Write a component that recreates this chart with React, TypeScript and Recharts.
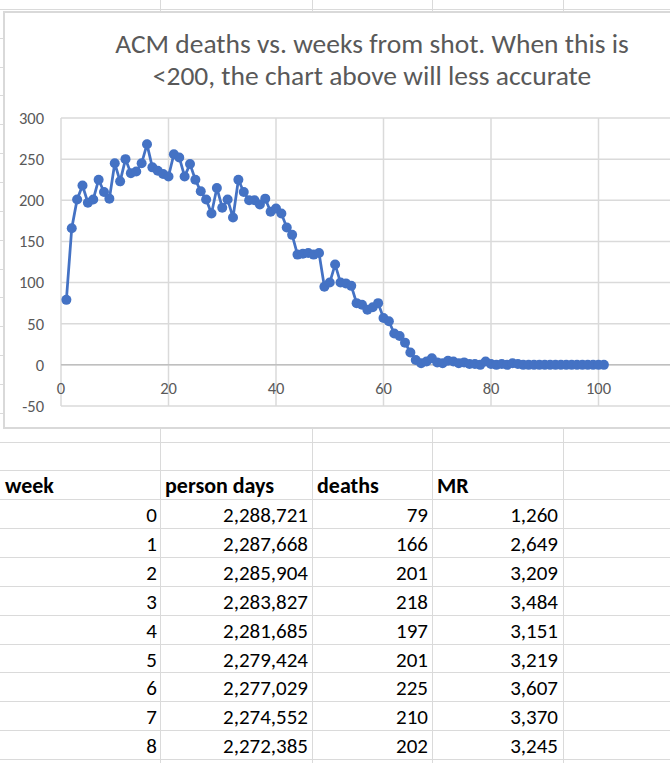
import { LineChart, Line, XAxis, YAxis, CartesianGrid, ReferenceLine } from "recharts";

// ACM deaths per week from shot, weeks 0..100
const deaths = [
  79, 166, 201, 218, 197, 201, 225, 210, 202, 245,
  223, 250, 233, 235, 245, 268, 240, 236, 232, 229,
  256, 252, 229, 244, 225, 211, 201, 184, 215, 191,
  201, 179, 225, 210, 200, 200, 195, 202, 186, 190,
  184, 167, 158, 134, 135, 136, 134, 136, 95, 100,
  122, 100, 99, 96, 75, 73, 67, 70, 75, 57,
  53, 38, 35, 27, 15, 6, 2, 4, 8, 3,
  2, 5, 4, 2, 3, 1, 1, 0, 4, 1,
  0, 1, 0, 2, 1, 0, 0, 0, 0, 0,
  0, 0, 0, 0, 0, 0, 0, 0, 0, 0, 0,
];

const xTicks = [0, 20, 40, 60, 80, 100, 120];
const yTicks = [-50, 0, 50, 100, 150, 200, 250, 300];

// spreadsheet rows under the chart
const headers = ["week", "person days", "deaths", "MR"];
const tableWeeks = [0, 1, 2, 3, 4, 5, 6, 7, 8];
const personDays = [2288721, 2287668, 2285904, 2283827, 2281685, 2279424, 2277029, 2274552, 2272385];
const mortality = [1260, 2649, 3209, 3484, 3151, 3219, 3607, 3370, 3245];

// excel plots a y-only series at 1..N
const chartData = deaths.map((d, i) => ({ x: i + 1, deaths: d }));

const FONT = "Carlito, Calibri, Lato, sans-serif";
const GRID = "#dadada";
const ROW_H = 28.85;
const ROW0 = 8.85;
const colLines = [160, 312, 432, 563];
const colRight = [157, 308, 428, 558];

const XTick = (props: any) => {
  const { x, y, payload } = props;
  // the 120 label sits past the window edge
  if (payload.value > 100) return <g />;
  return (
    <text x={x} y={y} dy={-12} textAnchor="middle" fill="#595959" fontSize={16.5} fontFamily={FONT}>
      {payload.value}
    </text>
  );
};

export default function App() {
  const rowLines: number[] = [];
  for (let y = ROW0; y < 763; y += ROW_H) rowLines.push(y);
  const fmt = (n: number) => n.toLocaleString("en-US");
  const headerTop = ROW0 + ROW_H * 16;

  return (
    <div
      style={{
        position: "absolute",
        left: 0,
        top: 0,
        width: 670,
        height: 763,
        overflow: "hidden",
        background: "#fff",
        fontFamily: FONT,
      }}
    >
      {/* sheet gridlines */}
      {rowLines.map((y) => (
        <div key={"r" + y} style={{ position: "absolute", left: 0, top: y, width: 670, height: 1, background: GRID }} />
      ))}
      {colLines.map((x) => (
        <div key={"c" + x} style={{ position: "absolute", left: x, top: 0, width: 1, height: 763, background: GRID }} />
      ))}

      {/* chart area */}
      <div
        style={{
          position: "absolute",
          left: 3,
          top: 11,
          width: 720,
          height: 418,
          border: "2px solid #d9d9d9",
          boxSizing: "border-box",
          background: "#fff",
        }}
      />
      <div
        style={{
          position: "absolute",
          left: 0,
          top: 28,
          width: 744,
          textAlign: "center",
          fontSize: 27.5,
          lineHeight: "32px",
          color: "#595959",
        }}
      >
        ACM deaths vs. weeks from shot. When this is
        <br />
        &lt;200, the chart above will less accurate
      </div>
      <div style={{ position: "absolute", left: 0, top: 0 }}>
        <LineChart width={720} height={440} data={chartData} margin={{ top: 118, right: 14, bottom: 4, left: 0 }}>
          <CartesianGrid stroke={GRID} strokeWidth={1.5} />
          <XAxis
            dataKey="x"
            type="number"
            domain={[0, 120]}
            ticks={xTicks}
            axisLine={false}
            tickLine={false}
            tickSize={0}
            tickMargin={0}
            tick={<XTick />}
            interval={0}
          />
          <YAxis
            type="number"
            domain={[-50, 300]}
            ticks={yTicks}
            width={61}
            axisLine={false}
            tickLine={false}
            tickSize={0}
            tickMargin={17}
            interval={0}
            tick={{ fill: "#595959", fontSize: 16.5, fontFamily: FONT }}
          />
          <ReferenceLine y={0} stroke="#bfbfbf" strokeWidth={1.5} />
          <Line
            dataKey="deaths"
            stroke="#4472C4"
            strokeWidth={2.75}
            dot={{ r: 5, fill: "#4472C4", stroke: "#4472C4", strokeWidth: 0 }}
            isAnimationActive={false}
          />
        </LineChart>
      </div>

      {/* sheet cells */}
      <div style={{ position: "absolute", left: 5, top: headerTop, height: ROW_H, lineHeight: ROW_H + 4 + "px", fontSize: 22, fontWeight: 700, color: "#000" }}>
        {headers[0]}
      </div>
      {headers.slice(1).map((h, i) => (
        <div
          key={h}
          style={{ position: "absolute", left: colLines[i] + 5, top: headerTop, height: ROW_H, lineHeight: ROW_H + 4 + "px", fontSize: 22, fontWeight: 700, color: "#000", whiteSpace: "nowrap" }}
        >
          {h}
        </div>
      ))}
      {tableWeeks.map((w, r) => {
        const top = headerTop + ROW_H * (r + 1);
        const cells = [String(w), fmt(personDays[r]), String(deaths[r]), fmt(mortality[r])];
        return cells.map((c, j) => (
          <div
            key={r + "-" + j}
            style={{
              position: "absolute",
              right: 670 - colRight[j],
              top,
              height: ROW_H,
              lineHeight: ROW_H + 4 + "px",
              fontSize: 21,
              color: "#000",
              whiteSpace: "nowrap",
            }}
          >
            {c}
          </div>
        ));
      })}
    </div>
  );
}
